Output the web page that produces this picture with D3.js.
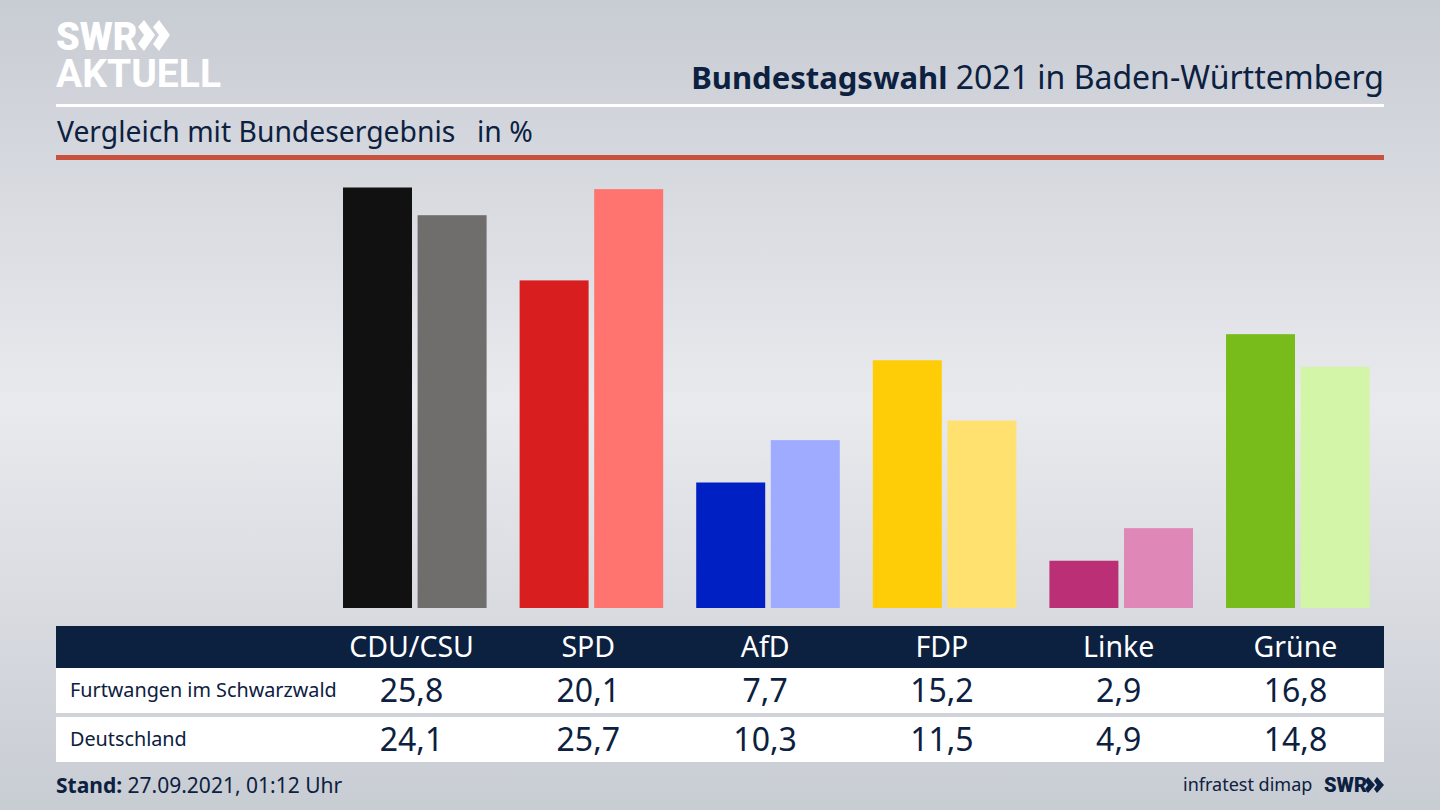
<!DOCTYPE html>
<html>
<head>
<meta charset="utf-8">
<script src="https://cdn.jsdelivr.net/npm/d3@7"></script>
<style>
  html, body { margin: 0; padding: 0; overflow: hidden; }
  text { font-family: "Noto Sans", sans-serif; fill: #0c2040; }
</style>
</head>
<body>
<div id="container"></div>
<script>
/* DATA */
const parties = ["CDU/CSU", "SPD", "AfD", "FDP", "Linke", "Grüne"]
const regions = ["Furtwangen im Schwarzwald", "Deutschland"]
const furtwangen = [25.8, 20.1, 7.7, 15.2, 2.9, 16.8]
const deutschland = [24.1, 25.7, 10.3, 11.5, 4.9, 14.8]
const darkColors = ["#111111", "#d81e1e", "#0020c4", "#ffcc08", "#bb2f76", "#78bc1b"]
const lightColors = ["#6f6e6c", "#ff746e", "#9eabff", "#ffe16f", "#df88b8", "#d3f5a8"]

/* CONSTANTS AND GLOBALS */
const width = 1440,
  height = 810,
  left = 56,
  right = 1384,
  navy = "#0c2040"

const comma = d => d.toFixed(1).replace(".", ",")

const svg = d3.select("#container")
  .append("svg")
  .attr("width", width)
  .attr("height", height)
  .style("display", "block")

// background
const grad = svg.append("defs").append("linearGradient")
  .attr("id", "bg")
  .attr("x1", 0).attr("x2", 0).attr("y1", 0).attr("y2", 1)
grad.selectAll("stop")
  .data([[0, "#c8ccd3"], [0.5, "#e9eaee"], [1, "#c8ccd3"]])
  .join("stop")
  .attr("offset", d => d[0])
  .attr("stop-color", d => d[1])
svg.append("rect")
  .attr("width", width)
  .attr("height", height)
  .attr("fill", "url(#bg)")

/* SCALES */
const xScale = d3.scaleBand()
  .domain(parties)
  .range([326.5, 1386.1])
  .paddingInner(0.187)
  .paddingOuter(0.0935)

const innerScale = d3.scaleBand()
  .domain([0, 1])
  .range([0, xScale.bandwidth()])
  .paddingInner(0.075)

const yScale = d3.scaleLinear()
  .domain([0, 25.8])
  .range([608, 187.5])

// table columns sit over the first bar pair, a bit left of the band centre
const colScale = d3.scalePoint()
  .domain(parties)
  .range([411.5, 1295.5])

/* BARS */
const groups = svg.selectAll("g.party")
  .data(parties)
  .join("g")
  .attr("class", "party")
  .attr("transform", d => `translate(${xScale(d)},0)`)

groups.each(function (p, i) {
  d3.select(this).selectAll("rect")
    .data([
      { k: 0, v: furtwangen[i], c: darkColors[i] },
      { k: 1, v: deutschland[i], c: lightColors[i] }
    ])
    .join("rect")
    .attr("x", d => innerScale(d.k))
    .attr("y", d => yScale(d.v))
    .attr("width", innerScale.bandwidth())
    .attr("height", d => yScale(0) - yScale(d.v))
    .attr("fill", d => d.c)
})

/* HEADER */
svg.append("rect").attr("x", left).attr("y", 104).attr("width", right - left).attr("height", 3).attr("fill", "#fff")
svg.append("rect").attr("x", left).attr("y", 155).attr("width", right - left).attr("height", 5).attr("fill", "#c9523e")

const title = svg.append("text")
  .attr("x", right)
  .attr("y", 89)
  .attr("text-anchor", "end")
  .style("font-size", "32px")
title.append("tspan").style("font-weight", 700).style("font-size", "31px").text("Bundestagswahl")
title.append("tspan").text(" 2021 in Baden-Württemberg")

svg.append("text")
  .attr("x", 57)
  .attr("y", 142)
  .style("font-size", "28.3px")
  .text("Vergleich mit Bundesergebnis")
svg.append("text")
  .attr("x", 477)
  .attr("y", 142)
  .style("font-size", "28.3px")
  .text("in %")

// logo, one text element with two lines
const logo = svg.append("text")
  .style("font-family", "Roboto, sans-serif")
  .style("fill", "#fff")
logo.append("tspan")
  .attr("x", 56).attr("y", 50)
  .style("font-weight", 900)
  .style("font-size", "38px")
  .style("fill", "#fff")
  .text("SWR")
logo.append("tspan")
  .attr("x", 56).attr("y", 87)
  .style("font-weight", 700)
  .style("font-size", "39px")
  .style("fill", "#fff")
  .text("AKTUELL")
svg.selectAll("polygon.logo")
  .data([138, 153])
  .join("polygon")
  .attr("class", "logo")
  .attr("fill", "#fff")
  .attr("points", d => `${d},27 ${d + 6},20 ${d + 17},35 ${d + 6},51 ${d},44 ${d + 6},35`)

/* TABLE */
svg.append("rect").attr("x", left).attr("y", 626).attr("width", right - left).attr("height", 42).attr("fill", navy)
svg.append("rect").attr("x", left).attr("y", 668).attr("width", right - left).attr("height", 45).attr("fill", "#fff")
svg.append("rect").attr("x", left).attr("y", 717).attr("width", right - left).attr("height", 45).attr("fill", "#fff")

svg.selectAll("text.party")
  .data(parties)
  .join("text")
  .attr("class", "party")
  .attr("x", d => colScale(d))
  .attr("y", 657)
  .attr("text-anchor", "middle")
  .style("font-size", "28.5px")
  .style("fill", "#fff")
  .text(d => d)

const rowY = [702, 751]
svg.selectAll("text.region")
  .data(regions)
  .join("text")
  .attr("class", "region")
  .attr("x", 70)
  .attr("y", (d, i) => rowY[i] - 5)
  .style("font-size", "19.8px")
  .text(d => d)

;[furtwangen, deutschland].forEach((row, r) => {
  svg.selectAll(`text.val${r}`)
    .data(row)
    .join("text")
    .attr("class", `val${r}`)
    .attr("x", (d, i) => colScale(parties[i]))
    .attr("y", rowY[r])
    .attr("text-anchor", "middle")
    .style("font-size", "32px")
    .text(comma)
})

/* FOOTER */
const stand = svg.append("text")
  .attr("x", 56)
  .attr("y", 793)
  .style("font-size", "21px")
stand.append("tspan").style("font-weight", 700).text("Stand:")
stand.append("tspan").text(" 27.09.2021, 01:12 Uhr")

svg.append("text")
  .attr("x", 1183).attr("y", 791)
  .style("font-size", "18px")
  .text("infratest dimap")
svg.append("text")
  .attr("x", 1324).attr("y", 792)
  .style("font-family", "Roboto, sans-serif")
  .style("font-weight", 900)
  .style("font-size", "20px")
  .text("SWR")
svg.selectAll("polygon.small")
  .data([1365, 1374])
  .join("polygon")
  .attr("class", "small")
  .attr("fill", navy)
  .attr("points", d => `${d},781 ${d + 3},777 ${d + 10},785 ${d + 3},793 ${d},789 ${d + 3},785`)
</script>
</body>
</html>
